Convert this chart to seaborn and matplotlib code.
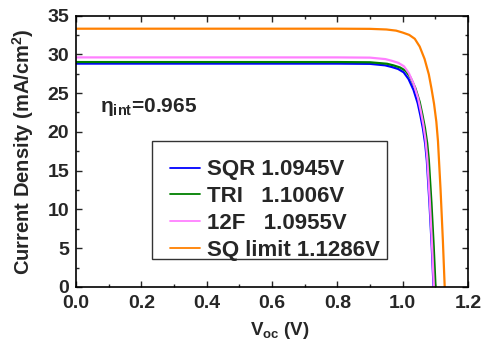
import pandas as pd
import matplotlib
matplotlib.use('Agg')
import matplotlib.pyplot as plt
import seaborn as sns
from matplotlib.patches import Rectangle
from matplotlib.ticker import MultipleLocator

# J-V curves (V in volts, J in mA/cm2)
sqr_v = [0.0, 0.80, 0.90, 0.946, 0.966, 0.986, 1.003, 1.018, 1.033, 1.046, 1.054, 1.062, 1.069, 1.074, 1.082, 1.089, 1.0945]
sqr_j = [28.8, 28.8, 28.77, 28.58, 28.37, 28.11, 27.68, 26.81, 25.43, 23.70, 22.15, 20.42, 18.43, 16.27, 10.80, 5.18, 0.0]

tri_v = [0.0, 0.80, 0.90, 0.952, 0.972, 0.992, 1.009, 1.024, 1.039, 1.052, 1.060, 1.068, 1.075, 1.080, 1.088, 1.095, 1.1006]
tri_j = [29.0, 29.0, 28.97, 28.78, 28.57, 28.30, 27.87, 27.00, 25.61, 23.87, 22.30, 20.56, 18.56, 16.39, 10.88, 5.22, 0.0]

f12_v = [0.0, 0.80, 0.90, 0.947, 0.967, 0.987, 1.004, 1.019, 1.034, 1.047, 1.055, 1.063, 1.070, 1.075, 1.083, 1.090, 1.0955]
f12_j = [29.6, 29.6, 29.57, 29.38, 29.16, 28.89, 28.45, 27.56, 26.14, 24.36, 22.76, 20.99, 18.94, 16.72, 11.10, 5.33, 0.0]

sq_v = [0.0, 0.80, 0.90, 0.950, 0.980, 1.000, 1.020, 1.037, 1.052, 1.067, 1.080, 1.088, 1.096, 1.103, 1.108, 1.116, 1.123, 1.1286]
sq_j = [33.3, 33.3, 33.28, 33.2, 33.05, 32.80, 32.50, 32.00, 31.00, 29.40, 27.41, 25.61, 23.61, 21.31, 18.81, 12.49, 5.99, 0.0]

labels = ['SQR 1.0945V', 'TRI   1.1006V', '12F   1.0955V', 'SQ limit 1.1286V']
colors = ['#0000FF', '#008000', '#FF80FF', '#FF8000']

sns.set_style('ticks')
plt.rcParams['font.family'] = ['Liberation Sans', 'DejaVu Sans']
plt.rcParams['font.weight'] = 'bold'
plt.rcParams['axes.labelweight'] = 'bold'
plt.rcParams['mathtext.fontset'] = 'custom'
plt.rcParams['mathtext.rm'] = 'Liberation Sans:bold'
plt.rcParams['mathtext.it'] = 'Liberation Sans:bold'
plt.rcParams['mathtext.bf'] = 'Liberation Sans:bold'
plt.rcParams['mathtext.default'] = 'bf'

frames = []
for name, v, j in [(labels[0], sqr_v, sqr_j), (labels[1], tri_v, tri_j),
                   (labels[2], f12_v, f12_j), (labels[3], sq_v, sq_j)]:
    frames.append(pd.DataFrame({'V': v, 'J': j, 'cell': name}))
df = pd.concat(frames, ignore_index=True)

fig = plt.figure(figsize=(4.85, 3.41), dpi=100)
ax = fig.add_axes([0.1567, 0.1584, 0.8083, 0.7961])

sns.lineplot(data=df, x='V', y='J', hue='cell', palette=colors,
             hue_order=labels, linewidth=1.6, ax=ax, legend=False)

ax.set_xlim(0, 1.2)
ax.set_ylim(0, 35)
ax.xaxis.set_major_locator(MultipleLocator(0.2))
ax.xaxis.set_minor_locator(MultipleLocator(0.1))
ax.yaxis.set_major_locator(MultipleLocator(5))
ax.yaxis.set_minor_locator(MultipleLocator(2.5))
ax.xaxis.set_major_formatter(matplotlib.ticker.FormatStrFormatter('%.1f'))
ax.tick_params(which='both', direction='in', top=True, right=True, width=1)
ax.tick_params(which='major', length=4.5, labelsize=14)
ax.tick_params(which='minor', length=2.5)
ax.tick_params(axis='x', pad=6)
ax.tick_params(axis='y', pad=5)
for s in ax.spines.values():
    s.set_linewidth(1.2)
    s.set_color('black')

ax.set_xlabel(r'V$_{oc}$ (V)', fontsize=13.5)
ax.set_ylabel(r'Current Density (mA/cm$^{2}$)', fontsize=14.5)
ax.xaxis.set_label_coords(0.52, -0.122)
ax.yaxis.set_label_coords(-0.102, 0.5)

ax.text(0.073, 23.2, r'$η_{int}$=0.965', fontsize=15, fontweight='bold',
        ha='left', va='center')

# legend with its own frame
handles = [plt.Line2D([], [], color=c, lw=1.3) for c in colors]
leg = ax.legend(handles, labels, loc='upper left', bbox_to_anchor=(0.24, 0.47),
                frameon=False, fontsize=16, handlelength=1.35, handletextpad=0.32,
                labelspacing=0.26, borderpad=0, borderaxespad=0)
ax.add_patch(Rectangle((0.194, 0.103), 0.6, 0.434, transform=ax.transAxes,
                       fill=False, edgecolor='#333333', linewidth=1.0, zorder=5))

fig.savefig('out.png', dpi=100)
